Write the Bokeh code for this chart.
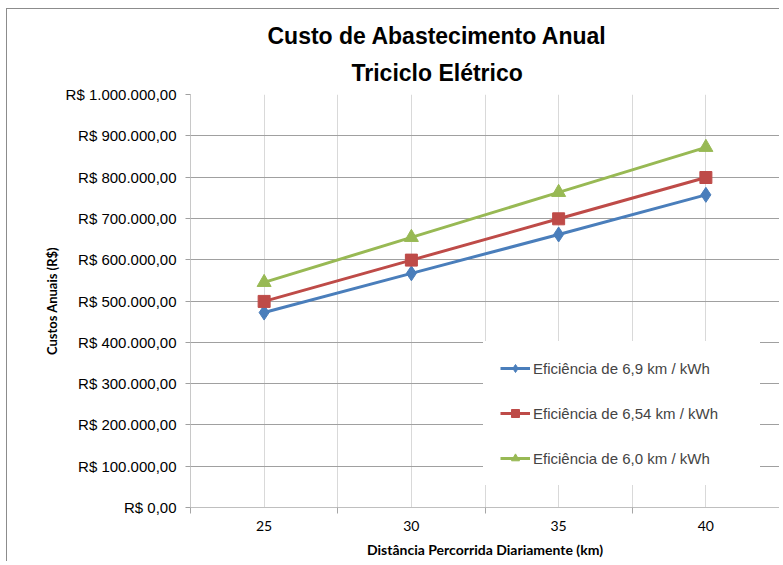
from bokeh.plotting import figure
from bokeh.models import FixedTicker, Legend, LegendItem, Title
from bokeh.embed import file_html
from bokeh.resources import INLINE

# ---- data ----
km = [25, 30, 35, 40]
eff_69 = [472000, 567000, 661000, 757000]
eff_654 = [499000, 599000, 699000, 799000]
eff_60 = [545000, 654000, 763000, 872000]
series_names = ["Eficiência de 6,9 km / kWh", "Eficiência de 6,54 km / kWh", "Eficiência de 6,0 km / kWh"]
y_ticks = [0, 100000, 200000, 300000, 400000, 500000, 600000, 700000, 800000, 900000, 1000000]
y_tick_labels = ["R$ 0,00", "R$ 100.000,00", "R$ 200.000,00", "R$ 300.000,00", "R$ 400.000,00",
                 "R$ 500.000,00", "R$ 600.000,00", "R$ 700.000,00", "R$ 800.000,00",
                 "R$ 900.000,00", "R$ 1.000.000,00"]
x_boundaries = [22.5, 27.5, 32.5, 37.5, 42.5]
title_lines = ["Custo de Abastecimento Anual", "Triciclo Elétrico"]

BLUE = "#4a7ebb"
RED = "#be4b48"
GREEN = "#98b954"

p = figure(width=773, height=553, output_backend="svg", toolbar_location=None, title=None,
           x_range=(22.5, 42.5), y_range=(0, 1000000),
           min_border_left=183, min_border_right=1, min_border_top=85, min_border_bottom=55)
p.outline_line_color = None
p.background_fill_color = "white"
p.border_fill_color = "white"
p.styles = {"margin-left": "6px", "margin-top": "8px",
            "border-left": "1px solid #8c8c8c", "border-top": "1px solid #8c8c8c"}

p.add_layout(Title(text=title_lines[1], align="left", offset=161,
                   text_font="Liberation Sans", text_font_size="23px", text_font_style="bold",
                   text_color="#000000", standoff=18), "above")
p.add_layout(Title(text=title_lines[0], align="left", offset=77,
                   text_font="Liberation Sans", text_font_size="23px", text_font_style="bold",
                   text_color="#000000", standoff=0), "above")

# x axis
p.xaxis.ticker = FixedTicker(ticks=km, minor_ticks=x_boundaries)
p.xaxis.major_tick_line_color = None
p.xaxis.minor_tick_line_color = "#a6a6a6"
p.xaxis.minor_tick_out = 6
p.xaxis.minor_tick_in = 0
p.xaxis.axis_line_color = "#bfbfbf"
p.xaxis.major_label_text_font = "Lato"
p.xaxis.major_label_text_font_size = "14px"
p.xaxis.major_label_text_color = "#000000"
p.xaxis.major_label_standoff = 7
p.xaxis.axis_label = "Distância Percorrida Diariamente (km)"
p.xaxis.axis_label_text_font = "Lato"
p.xaxis.axis_label_text_font_style = "bold"
p.xaxis.axis_label_text_font_size = "14px"
p.xaxis.axis_label_text_color = "#000000"
p.xaxis.axis_label_standoff = 7

# y axis
p.yaxis.ticker = FixedTicker(ticks=y_ticks)
p.yaxis.major_label_overrides = {t: s for t, s in zip(y_ticks, y_tick_labels)}
p.yaxis.minor_tick_line_color = None
p.yaxis.major_tick_line_color = "#a0a0a0"
p.yaxis.major_tick_out = 5
p.yaxis.major_tick_in = 0
p.yaxis.axis_line_color = "#c8c8c8"
p.yaxis.major_label_text_font = "Liberation Sans"
p.yaxis.major_label_text_font_size = "15px"
p.yaxis.major_label_text_color = "#000000"
p.yaxis.major_label_standoff = 9
p.yaxis.axis_label = "Custos Anuais (R$)"
p.yaxis.axis_label_text_font = "Lato"
p.yaxis.axis_label_text_font_style = "bold"
p.yaxis.axis_label_text_font_size = "13px"
p.yaxis.axis_label_text_color = "#000000"
p.yaxis.axis_label_standoff = 3

# grids
p.xgrid.ticker = FixedTicker(ticks=km, minor_ticks=x_boundaries)
p.xgrid.grid_line_color = "#d9d9d9"
p.xgrid.minor_grid_line_color = "#d9d9d9"
p.ygrid.grid_line_color = "#a0a0a0"

r1l = p.line(km, eff_69, line_color=BLUE, line_width=3)
r1m = p.scatter(km, eff_69, marker="diamond", size=15, fill_color=BLUE, line_color=BLUE)
r2l = p.line(km, eff_654, line_color=RED, line_width=3)
r2m = p.scatter(km, eff_654, marker="square", size=12, fill_color=RED, line_color=RED)
r3l = p.line(km, eff_60, line_color=GREEN, line_width=3)
r3m = p.scatter(km, eff_60, marker="triangle", size=14, fill_color=GREEN, line_color=GREEN)

legend = Legend(items=[LegendItem(label=series_names[0], renderers=[r1l, r1m]),
                       LegendItem(label=series_names[1], renderers=[r2l, r2m]),
                       LegendItem(label=series_names[2], renderers=[r3l, r3m])],
                location=(293, 22), padding=16, spacing=25, label_height=20, glyph_height=20,
                glyph_width=30, label_standoff=3, label_width=210,
                label_text_font="Liberation Sans", label_text_font_size="15px",
                border_line_color="white", background_fill_color="white", background_fill_alpha=1.0)
p.add_layout(legend, "center")

open("out.html", "w").write(file_html(p, INLINE))
